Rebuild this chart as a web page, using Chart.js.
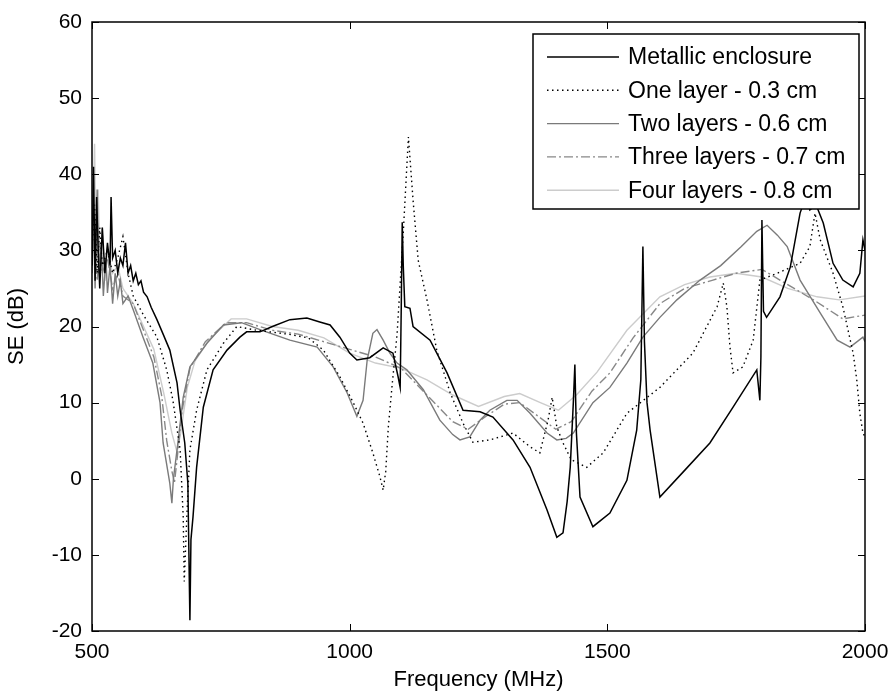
<!DOCTYPE html>
<html>
<head>
<meta charset="utf-8">
<script src="https://cdn.jsdelivr.net/npm/chart.js@4.4.1/dist/chart.umd.min.js"></script>
<style>
  html, body { margin: 0; padding: 0; background: #fff; }
  #wrap { width: 894px; height: 698px; }
</style>
</head>
<body>
<div id="wrap"><canvas id="chartSE" width="894" height="698"></canvas></div>
<script>
// Metallic enclosure
var metalFreq = [500, 503, 506, 509, 512, 515, 520, 525, 530, 535, 537, 540, 545, 550, 555, 560, 565, 570, 575, 580,
  585, 590, 595, 600, 607, 615, 626, 638, 651, 665, 671, 680, 686, 690, 692, 696, 703, 716, 735, 762,
  787, 800, 826, 850, 884, 917, 942, 962, 981, 1000, 1014, 1039, 1065, 1084, 1094, 1098, 1100, 1102, 1104, 1107,
  1117, 1123, 1156, 1189, 1220, 1253, 1278, 1317, 1350, 1383, 1402, 1414, 1422, 1428, 1434, 1437, 1440, 1447, 1472, 1505,
  1538, 1557, 1565, 1569, 1572, 1577, 1583, 1602, 1650, 1699, 1744, 1790, 1796, 1798, 1800, 1803, 1809, 1835, 1855, 1874,
  1885, 1893, 1905, 1919, 1938, 1957, 1977, 1990, 1996, 2000];
var metalSE = [28, 41, 26, 37, 30, 25, 33, 27, 31, 28, 37, 29, 30, 27, 29, 28, 31, 27, 28, 26,
  27, 25.5, 26, 24.5, 23.9, 22.5, 20.9, 19, 16.9, 12.6, 9, 4.7, -0.6, -18.6, -8, -5, 1.5, 9.4, 14.3, 16.9,
  18.6, 19.3, 19.3, 20, 20.9, 21.1, 20.6, 20.2, 18.6, 16.5, 15.6, 15.9, 17.2, 16.5, 13.4, 12, 22, 33.7, 28, 22.6,
  22.4, 20, 18.2, 13.9, 9, 8.8, 8.1, 5.1, 1.5, -4.1, -7.7, -7.1, -3, 1.5, 10, 15, 6, -2.4, -6.3, -4.5,
  -0.2, 6.4, 13, 30.5, 18, 10, 6.4, -2.4, 1.1, 4.7, 9.4, 14.3, 10.3, 16, 34, 22, 21.2, 23.9, 27.8, 34.9,
  37, 35.3, 36, 33.6, 28.3, 26.1, 25.2, 27, 31.4, 30];

// One layer - 0.3 cm
var oneFreq = [500, 505, 510, 515, 520, 530, 540, 550, 560, 570, 580, 600, 626, 645, 657, 671, 677, 679, 684, 690,
  703, 723, 755, 781, 820, 880, 920, 949, 981, 1007, 1026, 1045, 1059, 1065, 1070, 1075, 1082, 1092, 1104, 1114,
  1123, 1133, 1150, 1169, 1195, 1220, 1239, 1272, 1317, 1350, 1369, 1385, 1393, 1402, 1414, 1430, 1460, 1492, 1538, 1602,
  1666, 1713, 1725, 1732, 1738, 1744, 1763, 1783, 1796, 1830, 1874, 1893, 1903, 1913, 1938, 1957, 1977, 1984, 1990, 1996, 2000];
var oneSE = [30, 36, 27, 33, 28, 30, 27, 29, 31.8, 27, 24, 21.5, 18.6, 14.3, 10.3, 3.8, -5, -13.5, -5, 3.8,
  9, 14.3, 17.8, 20, 19.5, 19, 18.5, 16.9, 13.4, 10, 7.3, 3.4, 0.2, -1.5, 1, 6.8, 12, 19, 32.3, 44.9,
  36.6, 28.7, 23.5, 16.9, 11.3, 7.3, 4.8, 5.1, 6, 4.2, 3.4, 7.7, 10.7, 6.8, 4.7, 2.5, 1.5, 3.4, 8.6, 12,
  16.5, 22.6, 25.7, 22.6, 17.3, 13.9, 14.7, 18.2, 26.1, 27, 28.3, 30.5, 34.9, 31.4, 27, 22.6, 16.5, 13, 8.6, 6, 5.5];

// Two layers - 0.6 cm
var twoFreq = [500, 503, 506, 510, 513, 518, 522, 527, 530, 535, 540, 545, 550, 555, 560, 570, 580, 599, 618, 632,
  638, 651, 655, 658, 665, 677, 690, 723, 755, 790, 830, 884, 937, 968, 995, 1014, 1026, 1034, 1045, 1053,
  1065, 1078, 1092, 1111, 1143, 1175, 1200, 1214, 1233, 1253, 1272, 1305, 1325, 1350, 1383, 1402, 1420, 1434, 1472, 1505,
  1538, 1569, 1602, 1635, 1680, 1720, 1760, 1790, 1810, 1830, 1849, 1874, 1913, 1946, 1971, 1996, 2000];
var twoSE = [27, 34, 25, 38, 27, 31, 24, 29, 24.4, 28, 23, 27, 24, 26, 23, 24, 22.2, 18.6, 15.2, 10,
  4.7, -0.6, -3.2, 0, 3.8, 10.7, 14.7, 17.8, 20.2, 20.5, 19.5, 18.2, 17.3, 14.7, 11.3, 8.2, 10.3, 15.6, 19.1, 19.6,
  18.2, 16.5, 15.2, 14.3, 11.7, 7.7, 5.8, 5.1, 5.5, 7.7, 9, 10.3, 10.3, 8.6, 6, 5.1, 5.3, 6, 10, 12,
  15.2, 18.6, 21.2, 23.5, 26.1, 28, 30.5, 32.5, 33.3, 32, 30.5, 26.1, 21.8, 18.2, 17.3, 18.6, 18];

// Three layers - 0.7 cm
var threeFreq = [500, 505, 510, 515, 520, 530, 540, 550, 560, 580, 600, 620, 635, 645, 655, 660, 665, 675, 690, 720,
  760, 800, 850, 900, 950, 1000, 1050, 1100, 1150, 1200, 1230, 1260, 1300, 1330, 1370, 1400, 1430, 1470, 1505, 1550,
  1602, 1650, 1705, 1750, 1800, 1850, 1900, 1957, 2000];
var threeSE = [29, 33, 26, 31, 27, 29, 25, 27, 24, 23, 19.5, 16, 11, 5, 1, -0.5, 2.5, 9, 14.5, 18,
  20.5, 20.5, 19.5, 19, 18, 17, 16, 14.5, 11, 7.5, 6.5, 8, 9.8, 10, 8, 6.5, 7.5, 11.5, 13.9, 18.5,
  23, 25, 26.1, 27, 27.5, 25.5, 23.5, 21, 21.5];

// Four layers - 0.8 cm
var fourFreq = [500, 505, 508, 512, 516, 520, 525, 530, 540, 550, 560, 580, 600, 620, 640, 655, 665, 672, 685, 700,
  730, 770, 800, 850, 900, 950, 1000, 1050, 1100, 1150, 1200, 1250, 1300, 1330, 1370, 1405, 1440, 1480, 1538, 1602,
  1650, 1699, 1750, 1800, 1850, 1907, 1950, 2000];
var fourSE = [30, 44, 28, 38, 27, 33, 26, 30, 27, 28, 25, 23, 20, 17, 11, 6, 3.5, 6, 12, 15.5,
  18.5, 21, 21, 20, 19.5, 18.5, 16.5, 15.2, 14.5, 13, 11, 9.5, 10.8, 11.2, 10, 9, 11, 14, 19.5, 23.9,
  25.5, 26.5, 27, 26.5, 25, 23.9, 23.5, 24];

var xTicks = [500, 1000, 1500, 2000];
var yTicks = [-20, -10, 0, 10, 20, 30, 40, 50, 60];

var FONT = '"Liberation Sans", Arial, sans-serif';

function pares(xs, ys) {
  return xs.map(function (x, i) { return { x: x, y: ys[i] }; });
}

// moldura, marcas internas e legenda no estilo MATLAB
var moldura = {
  id: "moldura",
  afterDatasetsDraw: function (chart) {
    var ctx = chart.ctx;
    var a = chart.chartArea;
    var sx = chart.scales.x, sy = chart.scales.y;
    var L = 7;
    ctx.save();
    ctx.strokeStyle = "#000";
    ctx.lineWidth = 1.5;
    ctx.setLineDash([]);
    ctx.strokeRect(a.left, a.top, a.right - a.left, a.bottom - a.top);
    ctx.lineWidth = 1;
    ctx.beginPath();
    xTicks.forEach(function (v) {
      var p = Math.round(sx.getPixelForValue(v)) + 0.5;
      ctx.moveTo(p, a.bottom); ctx.lineTo(p, a.bottom - L);
      ctx.moveTo(p, a.top); ctx.lineTo(p, a.top + L);
    });
    yTicks.forEach(function (v) {
      var p = Math.round(sy.getPixelForValue(v)) + 0.5;
      ctx.moveTo(a.left, p); ctx.lineTo(a.left + L, p);
      ctx.moveTo(a.right, p); ctx.lineTo(a.right - L, p);
    });
    ctx.stroke();

    // legenda
    var bx = 533, by = 34, bw = 326, bh = 175;
    ctx.fillStyle = "#fff";
    ctx.fillRect(bx, by, bw, bh);
    ctx.lineWidth = 1.5;
    ctx.strokeStyle = "#000";
    ctx.strokeRect(bx, by, bw, bh);
    ctx.font = "23px " + FONT;
    ctx.textBaseline = "middle";
    ctx.textAlign = "left";
    chart.data.datasets.forEach(function (ds, i) {
      var yy = by + 23 + i * 33.3;
      ctx.beginPath();
      ctx.strokeStyle = ds.borderColor;
      ctx.lineWidth = ds.borderWidth;
      ctx.setLineDash(ds.borderDash || []);
      ctx.moveTo(bx + 14, yy);
      ctx.lineTo(bx + 86, yy);
      ctx.stroke();
      ctx.setLineDash([]);
      ctx.fillStyle = "#000";
      ctx.fillText(ds.label, bx + 95, yy + 1);
    });
    ctx.restore();
  }
};

document.addEventListener("DOMContentLoaded", function () {
  var ctx = document.getElementById("chartSE").getContext("2d");

  new Chart(ctx, {
    type: "line",
    data: {
      datasets: [
        { label: "Metallic enclosure", data: pares(metalFreq, metalSE),
          borderColor: "#000000", borderWidth: 1.5 },
        { label: "One layer - 0.3 cm", data: pares(oneFreq, oneSE),
          borderColor: "#000000", borderWidth: 1.4, borderDash: [1.5, 3.5] },
        { label: "Two layers - 0.6 cm", data: pares(twoFreq, twoSE),
          borderColor: "#7a7a7a", borderWidth: 1.4 },
        { label: "Three layers - 0.7 cm", data: pares(threeFreq, threeSE),
          borderColor: "#888888", borderWidth: 1.4, borderDash: [9, 3, 2, 3] },
        { label: "Four layers - 0.8 cm", data: pares(fourFreq, fourSE),
          borderColor: "#cccccc", borderWidth: 1.4 }
      ]
    },
    options: {
      responsive: false,
      animation: false,
      devicePixelRatio: 1,
      layout: { padding: { left: 0, right: 29, top: 22, bottom: 0 } },
      elements: { point: { radius: 0 }, line: { tension: 0, fill: false } },
      plugins: { legend: { display: false }, tooltip: { enabled: false } },
      scales: {
        x: {
          type: "linear",
          min: 500, max: 2000,
          afterBuildTicks: function (s) { s.ticks = xTicks.map(function (v) { return { value: v }; }); },
          afterFit: function (s) { s.height = 67; s.paddingLeft = 0; s.paddingRight = 0; },
          grid: { display: false, drawTicks: false },
          border: { display: false },
          ticks: { color: "#000", font: { family: FONT, size: 21 }, padding: 9, maxRotation: 0,
            callback: function (v) { return String(v); } },
          title: { display: true, text: "Frequency (MHz)", color: "#000",
            font: { family: FONT, size: 22 }, padding: { top: 2, bottom: 5 } }
        },
        y: {
          min: -20, max: 60,
          afterBuildTicks: function (s) { s.ticks = yTicks.map(function (v) { return { value: v }; }); },
          afterFit: function (s) { s.width = 92; s.paddingTop = 0; s.paddingBottom = 0; },
          grid: { display: false, drawTicks: false },
          border: { display: false },
          ticks: { color: "#000", font: { family: FONT, size: 21 }, padding: 10,
            callback: function (v) { return String(v); } },
          title: { display: true, text: "SE (dB)", color: "#000",
            font: { family: FONT, size: 22 }, padding: { top: 4, bottom: 4 } }
        }
      }
    },
    plugins: [moldura]
  });
});
</script>
</body>
</html>
